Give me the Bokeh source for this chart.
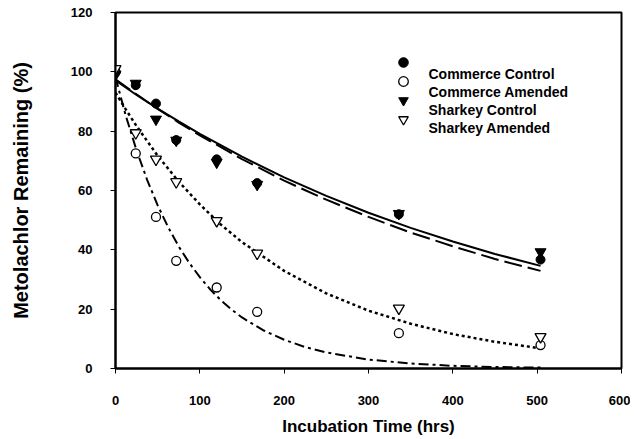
from bokeh.plotting import figure
from bokeh.models import Range1d, FixedTicker, Legend, LegendItem, Label
from bokeh.embed import file_html
from bokeh.resources import INLINE

hours = [0, 24, 48, 72, 120, 168, 336, 504]
commerce_control = [100, 95.5, 89.3, 77.0, 70.5, 62.5, 52.0, 36.7]
commerce_amended = [100, 72.5, 51.1, 36.3, 27.3, 19.1, 11.9, 7.9]
sharkey_control = [99, 96.1, 84.0, 76.9, 69.5, 62.0, 52.2, 39.3]
sharkey_amended = [101, 79.4, 70.5, 62.9, 49.8, 38.8, 20.3, 10.7]

# Fitted curves
cc_fit_t = [0, 25, 50, 75, 100, 150, 200, 250, 300, 350, 400, 450, 504]
cc_fit_y = [97.1, 92.2, 87.6, 83.3, 79.1, 71.4, 64.4, 58.2, 52.5, 47.4, 42.8, 38.6, 34.6]
sc_fit_t = [0, 25, 50, 75, 100, 150, 200, 250, 300, 350, 400, 450, 504]
sc_fit_y = [97.5, 92.4, 87.5, 82.9, 78.6, 70.6, 63.3, 56.9, 51.1, 45.8, 41.2, 36.9, 32.9]
sa_fit_t = [0, 12, 25, 50, 75, 100, 125, 150, 200, 250, 300, 350, 400, 450, 504]
sa_fit_y = [93.0, 87.4, 81.7, 71.7, 63.0, 55.3, 48.5, 42.6, 32.9, 25.3, 19.5, 15.1, 11.6, 9.0, 6.8]
ca_fit_t = [0, 12, 25, 37.5, 50, 62.5, 75, 87.5, 100, 112.5, 125, 137.5, 150, 175, 200,
            225, 250, 300, 350, 400, 450, 504]
ca_fit_y = [98.2, 85.4, 73.5, 63.6, 55.0, 47.6, 41.1, 35.6, 30.8, 26.6, 23.0, 19.9, 17.2,
            12.9, 9.7, 7.2, 5.4, 3.0, 1.7, 0.9, 0.5, 0.3]

x_ticks = [0, 100, 200, 300, 400, 500, 600]
y_ticks = [0, 20, 40, 60, 80, 100, 120]
labels = ["Commerce Control", "Commerce Amended", "Sharkey Control", "Sharkey Amended"]

FONT = "Liberation Sans"

p = figure(width=630, height=438, output_backend="svg", toolbar_location=None,
           x_range=Range1d(0, 600), y_range=Range1d(0, 120),
           min_border_left=115, min_border_right=9, min_border_top=12, min_border_bottom=70)
p.xgrid.visible = False
p.ygrid.visible = False
p.outline_line_color = "black"
p.outline_line_width = 2
p.background_fill_color = "white"
p.border_fill_color = "white"

for ax in (p.xaxis[0], p.yaxis[0]):
    ax.axis_line_width = 2
    ax.axis_line_color = "black"
    ax.major_tick_in = 0
    ax.major_tick_out = 5
    ax.major_tick_line_width = 1
    ax.minor_tick_line_color = None
    ax.major_label_text_font = FONT
    ax.major_label_text_font_style = "bold"
    ax.major_label_text_font_size = "13px"
    ax.major_label_text_color = "black"
    ax.axis_label_text_font = FONT
    ax.axis_label_text_font_style = "bold"
    ax.axis_label_text_color = "black"

p.xaxis.ticker = FixedTicker(ticks=x_ticks)
p.yaxis.ticker = FixedTicker(ticks=y_ticks)
p.xaxis.axis_label = "Incubation Time (hrs)"
p.yaxis.axis_label = "Metolachlor Remaining (%)"
p.xaxis.axis_label_text_font_size = "17px"
p.yaxis.axis_label_text_font_size = "20px"
p.xaxis.major_label_standoff = 22
p.xaxis.axis_label_standoff = 9
p.yaxis.major_label_standoff = 18
p.yaxis.major_label_text_baseline = "top"
p.yaxis.axis_label_standoff = 36

# curves
p.line(cc_fit_t, cc_fit_y, line_color="black", line_width=2)
p.line(sc_fit_t, sc_fit_y, line_color="black", line_width=2, line_dash="18 6")
p.line(sa_fit_t, sa_fit_y, line_color="black", line_width=2.5, line_dash="3 3")
p.line(ca_fit_t, ca_fit_y, line_color="black", line_width=2, line_dash="10 4 3 4")

# markers
r_cc = p.scatter(hours, commerce_control, marker="circle", size=9,
                 fill_color="black", line_color="black")
r_ca = p.scatter(hours, commerce_amended, marker="circle", size=9,
                 fill_color="white", line_color="black", line_width=1.3)
r_sc = p.scatter(hours, sharkey_control, marker="inverted_triangle", size=11,
                 fill_color="black", line_color="black")
r_sa = p.scatter(hours, sharkey_amended, marker="inverted_triangle", size=11,
                 fill_color="white", line_color="black", line_width=1.3)

# legend: symbols (one small legend per series) and their texts
renderers = [r_cc, r_ca, r_sc, r_sa]
symbol_bottoms = [294, 275, 256, 237]
text_ys = [295, 277, 259, 241]
for lab, rend, bottom, ty in zip(labels, renderers, symbol_bottoms, text_ys):
    lg = Legend(items=[LegendItem(label="", renderers=[rend])],
                location=(276, bottom), padding=0, margin=0, spacing=0,
                glyph_width=24, glyph_height=24, label_width=0, label_height=0,
                label_standoff=0, border_line_color=None,
                background_fill_alpha=0, label_text_font_size="1px")
    p.add_layout(lg, "center")
    p.add_layout(Label(x=313, y=ty, x_units="screen", y_units="screen", text=lab,
                       text_font=FONT, text_font_style="bold", text_font_size="14px",
                       text_color="black", text_baseline="middle", text_align="left"))

open("out.html", "w").write(file_html(p, INLINE))
